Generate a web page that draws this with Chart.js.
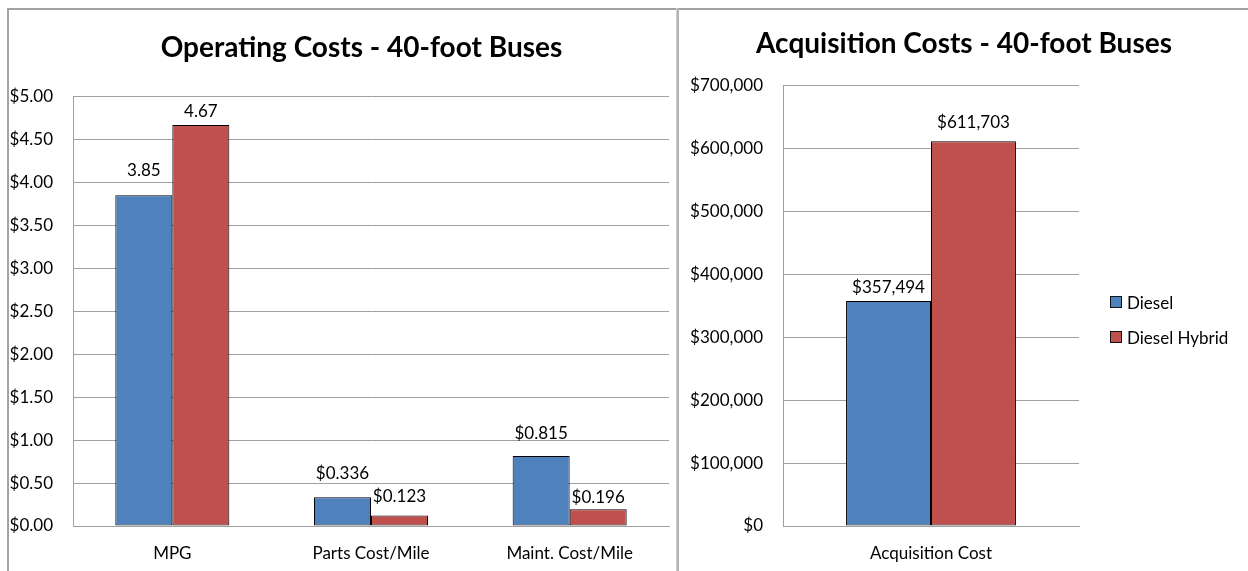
<!DOCTYPE html>
<html>
<head>
<meta charset="utf-8">
<script src="https://cdn.jsdelivr.net/npm/chart.js@4.4.1/dist/chart.umd.min.js"></script>
<style>
  body { margin: 0; background: #fff; width: 1248px; height: 571px; overflow: hidden; position: relative; font-family: Lato, sans-serif; }
  #frame { position: absolute; left: 7px; top: 8px; width: 1241px; height: 563px; border-left: 2px solid #a3a3a3; border-top: 2px solid #a3a3a3; }
  #sep { position: absolute; left: 676px; top: 8px; width: 3px; height: 563px; background: #b4b4b4; border-left: 1px solid #cfcfcf; box-sizing: border-box; z-index: 2; }
  #opChart { position: absolute; left: 9px; top: 10px; z-index: 1; }
  #acqChart { position: absolute; left: 680px; top: 10px; }
  #legend { position: absolute; left: 1110px; top: 292px; font-size: 17px; color: #000; }
  #legend div { height: 35px; display: flex; align-items: flex-start; }
  #legend span.box { width: 10px; height: 10px; border: 1px solid #111; margin: 4px 5px 0 0; }
</style>
</head>
<body>
<div id="frame"></div>
<div id="sep"></div>
<canvas id="opChart" width="705" height="561"></canvas>
<canvas id="acqChart" width="568" height="561"></canvas>
<div id="legend"></div>
<script>
const seriesNames = ["Diesel", "Diesel Hybrid"];
const seriesColors = ["#4f81bd", "#c0504d"];

const opCategories = ["MPG", "Parts Cost/Mile", "Maint. Cost/Mile"];
const opDiesel = [3.85, 0.336, 0.815];
const opHybrid = [4.67, 0.123, 0.196];

const acqCategories = ["Acquisition Cost"];
const acqDiesel = [357494];
const acqHybrid = [611703];

const FONT = "Lato";

// writes the value above each bar
const valueLabels = {
    id: "valueLabels",
    afterDatasetsDraw(chart, args, opts) {
        const ctx = chart.ctx;
        ctx.save();
        ctx.font = `17px ${FONT}`;
        ctx.fillStyle = "#000";
        ctx.textAlign = "center";
        ctx.textBaseline = "alphabetic";
        chart.data.datasets.forEach((ds, di) => {
            chart.getDatasetMeta(di).data.forEach((bar, i) => {
                const gap = opts.gaps[di][i];
                ctx.fillText(opts.format(ds.data[i], i), bar.x, bar.y - gap);
            });
        });
        ctx.restore();
    }
};

function makeDatasets(values) {
    return values.map((v, i) => ({
        label: seriesNames[i],
        data: v,
        backgroundColor: seriesColors[i],
        borderColor: "#000",
        borderWidth: 1,
        borderSkipped: false,
        categoryPercentage: 0.574,
        barPercentage: 1
    }));
}

// yWidth / rightWidth pin the plot area; the right axis is only a spacer
function baseScales(yWidth, rightWidth, yMax, yStep, tickFmt) {
    return {
        x: {
            grid: { display: false, drawTicks: false },
            border: { color: "#a0a0a0" },
            ticks: { color: "#000", font: { family: FONT, size: 17 }, padding: 17 },
            afterFit: s => { s.height = 45; }
        },
        y: {
            min: 0, max: yMax,
            grid: { color: "#a0a0a0", drawTicks: false },
            border: { color: "#a0a0a0" },
            ticks: { stepSize: yStep, color: "#000", font: { family: FONT, size: 17 }, padding: 20, callback: tickFmt },
            afterFit: s => { s.width = yWidth; }
        },
        spacer: {
            axis: "y",
            position: "right",
            grid: { display: false, drawTicks: false },
            border: { display: false },
            ticks: { display: false },
            afterFit: s => { s.width = rightWidth; }
        }
    };
}

function drawCharts() {
    new Chart(document.getElementById("opChart"), {
        type: "bar",
        data: { labels: opCategories, datasets: makeDatasets([opDiesel, opHybrid]) },
        options: {
            responsive: false,
            animation: false,
            devicePixelRatio: 1,
            scales: baseScales(64, 45, 5, 0.5, v => "$" + v.toFixed(2)),
            plugins: {
                legend: { display: false },
                tooltip: { enabled: false },
                title: {
                    display: true,
                    text: "Operating Costs - 40-foot Buses",
                    color: "#000",
                    font: { family: FONT, size: 28, weight: "bold" },
                    padding: { top: 21, bottom: 32 }
                },
                valueLabels: {
                    gaps: [[19, 18, 17], [8, 13, 6]],
                    format: (v, i) => i === 0 ? v.toFixed(2) : "$" + v.toFixed(3)
                }
            }
        },
        plugins: [valueLabels]
    });

    new Chart(document.getElementById("acqChart"), {
        type: "bar",
        data: { labels: acqCategories, datasets: makeDatasets([acqDiesel, acqHybrid]) },
        options: {
            responsive: false,
            animation: false,
            devicePixelRatio: 1,
            scales: baseScales(103, 169, 700000, 100000, v => "$" + v.toLocaleString("en-US")),
            plugins: {
                legend: { display: false },
                tooltip: { enabled: false },
                title: {
                    display: true,
                    text: "Acquisition Costs - 40-foot Buses",
                    color: "#000",
                    font: { family: FONT, size: 28, weight: "bold" },
                    padding: { top: 17, bottom: 25 }
                },
                valueLabels: {
                    gaps: [[8], [13]],
                    format: v => "$" + v.toLocaleString("en-US")
                }
            }
        },
        plugins: [valueLabels]
    });

    const legend = document.getElementById("legend");
    seriesNames.forEach((name, i) => {
        const row = document.createElement("div");
        const box = document.createElement("span");
        box.className = "box";
        box.style.background = seriesColors[i];
        row.appendChild(box);
        row.appendChild(document.createTextNode(name));
        legend.appendChild(row);
    });
}

Promise.all([
    document.fonts.load(`17px ${FONT}`),
    document.fonts.load(`bold 28px ${FONT}`)
]).then(drawCharts, drawCharts);
</script>
</body>
</html>
